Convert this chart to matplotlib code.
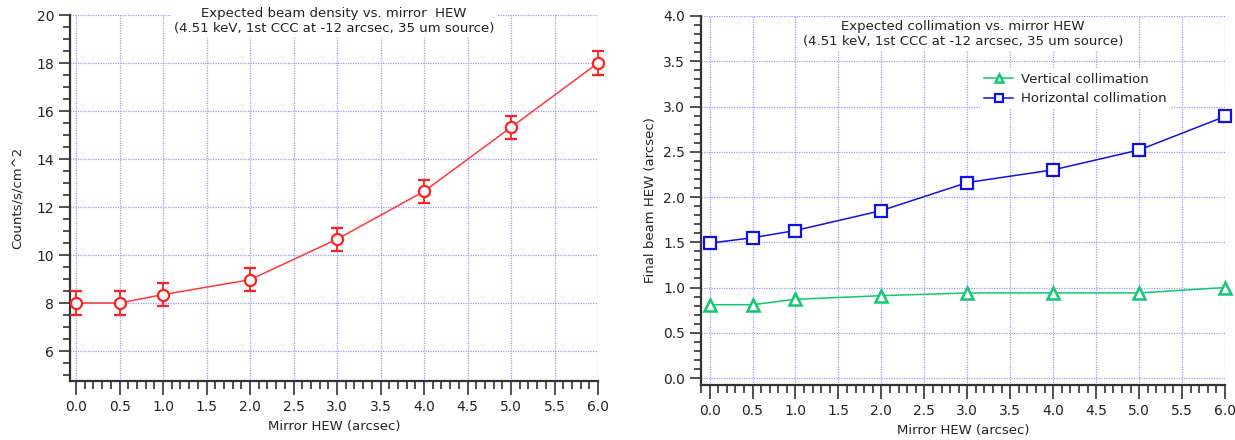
import matplotlib
matplotlib.use("Agg")
import matplotlib.pyplot as plt
from matplotlib.ticker import MultipleLocator, FormatStrFormatter

mirror_hew = [0.0, 0.5, 1.0, 2.0, 3.0, 4.0, 5.0, 6.0]
density = [8.0, 8.0, 8.35, 8.97, 10.66, 12.65, 15.32, 18.0]
density_err = [0.5, 0.5, 0.48, 0.48, 0.48, 0.48, 0.48, 0.5]
vertical = [0.81, 0.81, 0.87, 0.91, 0.94, 0.94, 0.94, 1.0]
horizontal = [1.49, 1.55, 1.63, 1.85, 2.16, 2.30, 2.52, 2.89]

title_left = "Expected beam density vs. mirror  HEW\n(4.51 keV, 1st CCC at -12 arcsec, 35 um source)"
title_right = "Expected collimation vs. mirror HEW\n(4.51 keV, 1st CCC at -12 arcsec, 35 um source)"

plt.rcParams['font.family'] = ['DejaVu Sans']
fig = plt.figure(figsize=(12.35, 4.4), dpi=100)

grid_col = '#9a9aff'
spine_col = '#333333'
red = '#ff2020'
green = '#10c870'
blue = '#1010e8'


def style(ax):
    for s in ['top', 'right']:
        ax.spines[s].set_visible(False)
    for s in ['left', 'bottom']:
        ax.spines[s].set_color(spine_col)
        ax.spines[s].set_linewidth(1.6)
    ax.xaxis.set_major_locator(MultipleLocator(0.5))
    ax.xaxis.set_minor_locator(MultipleLocator(0.1))
    ax.xaxis.set_major_formatter(FormatStrFormatter('%.1f'))
    ax.tick_params(axis='both', which='major', direction='out', color=spine_col,
                   width=1.2, labelsize=10, labelcolor='#222222')
    ax.tick_params(axis='x', which='major', length=10, pad=4)
    ax.tick_params(axis='x', which='minor', length=6, width=1.2, color=spine_col)
    ax.tick_params(axis='y', which='major', length=8)
    ax.tick_params(axis='y', which='minor', length=5, width=1.2, color=spine_col)
    ax.grid(True, which='major', color=grid_col, linestyle=(0, (1, 1)), linewidth=0.9)
    ax.set_axisbelow(True)
    ax.set_xlabel("Mirror HEW (arcsec)", fontsize=9.5, color='#222222', labelpad=4)


ax1 = fig.add_axes([70/1235, 1-381/440, 528/1235, 366/440])
style(ax1)
ax1.set_xlim(-0.07, 6.0)
ax1.set_ylim(4.75, 20)
ax1.yaxis.set_major_locator(MultipleLocator(2))
ax1.yaxis.set_minor_locator(MultipleLocator(0.5))
ax1.set_yticks([6, 8, 10, 12, 14, 16, 18, 20])
ax1.errorbar(mirror_hew, density, yerr=density_err, color='#ff3838', lw=1.1,
             marker='o', ms=8, mfc='white', mec=red, mew=1.6,
             ecolor=red, elinewidth=1.3, capsize=4, capthick=1.3, clip_on=False, zorder=3)
ax1.set_ylabel("Counts/s/cm^2", fontsize=9.5, color='#222222', labelpad=8)
ax1.text(0.5, 1.022, title_left, transform=ax1.transAxes, ha='center', va='top',
         fontsize=9.5, color='#222222', linespacing=1.25,
         bbox=dict(facecolor='white', edgecolor='none', pad=2), zorder=5)

ax2 = fig.add_axes([701/1235, 1-385/440, 524/1235, 369/440])
style(ax2)
ax2.set_xlim(-0.1, 6.0)
ax2.set_ylim(-0.077, 4.0)
ax2.yaxis.set_major_locator(MultipleLocator(0.5))
ax2.yaxis.set_minor_locator(MultipleLocator(0.1))
ax2.yaxis.set_major_formatter(FormatStrFormatter('%.1f'))
ax2.plot(mirror_hew, vertical, color=green, lw=1.1, marker='^', ms=8, mfc='white',
         mec=green, mew=1.8, clip_on=False, zorder=3, label="Vertical collimation")
ax2.plot(mirror_hew, horizontal, color=blue, lw=1.1, marker='s', ms=8, mfc='white',
         mec=blue, mew=1.6, clip_on=False, zorder=3, label="Horizontal collimation")
ax2.set_ylabel("Final beam HEW (arcsec)", fontsize=9.5, color='#222222', labelpad=4)
ax2.text(0.5, 0.99, title_right, transform=ax2.transAxes, ha='center', va='top',
         fontsize=9.5, color='#222222', linespacing=1.25,
         bbox=dict(facecolor='white', edgecolor='none', pad=2), zorder=5)
leg = ax2.legend(loc='upper left', bbox_to_anchor=(0.52, 0.875), frameon=True,
                 fontsize=9.5, handlelength=2.2, markerscale=0.65, borderpad=0.3,
                 labelspacing=0.5, handletextpad=0.6)
leg.get_frame().set_edgecolor('none')
leg.get_frame().set_facecolor('white')
leg.get_frame().set_alpha(1)
for t in leg.get_texts():
    t.set_color('#222222')

fig.savefig("out.png", dpi=100)
